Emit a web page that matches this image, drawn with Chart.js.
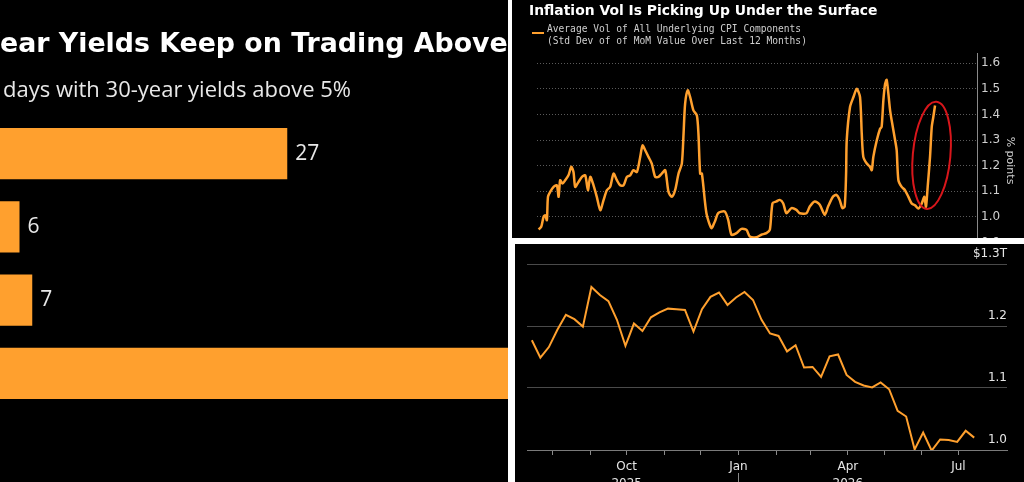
<!DOCTYPE html>
<html>
<head>
<meta charset="utf-8">
<script src="https://cdn.jsdelivr.net/npm/chart.js@4.4.1/dist/chart.umd.min.js"></script>
<style>
  html, body { margin: 0; padding: 0; background: #fff; }
  body { width: 1024px; height: 482px; position: relative; overflow: hidden; }
  .panel { position: absolute; background: #000; overflow: hidden; }
  #left { left: 0; top: 0; width: 508px; height: 482px; }
  #topRight { left: 512px; top: 0; width: 512px; height: 238px; }
  #bottomRight { left: 515px; top: 244px; width: 509px; height: 238px; }
  canvas { position: absolute; }
  .txt { position: absolute; white-space: nowrap; }
  .cut { position: absolute; right: 100%; }
</style>
</head>
<body>

<div class="panel" id="left">
  <canvas id="yieldBars" width="765" height="482" style="left:-57px; top:0"></canvas>
  <div class="txt" style="left:0; top:27px; font: bold 26.8px 'DejaVu Sans'; color:#fff"><span class="cut">30-Y</span>ear Yields Keep on Trading Above 5%</div>
  <div class="txt" style="left:3px; top:73px; font: 22px 'Open Sans'; color:#e8e8e8"><span class="cut">Number of&nbsp;</span>days with 30-year yields above 5%</div>
</div>

<div class="panel" id="topRight">
  <canvas id="volLine" width="512" height="280" style="left:0; top:0"></canvas>
  <div class="txt" style="left:17px; top:1.5px; font: bold 13.9px 'DejaVu Sans'; color:#fff">Inflation Vol Is Picking Up Under the Surface</div>
  <div class="txt" style="left:20px; top:32px; width:12px; height:2px; background:#ffa02e"></div>
  <div class="txt" style="left:35px; top:22.5px; font: 9.6px/12.3px 'DejaVu Sans Mono'; color:#cfcfcf; white-space:pre">Average Vol of All Underlying CPI Components
(Std Dev of of MoM Value Over Last 12 Months)</div>
</div>

<div class="panel" id="bottomRight">
  <canvas id="bottomLine" width="509" height="260" style="left:0; top:0"></canvas>
</div>

<script>
const ORANGE = "#ffa02e";

// --- left: days with 30-year yields above 5% ---
const yieldYears = ["2006", "2007", "2023", "2025"];
const daysAbove5 = [27, 6, 7, 58];

// --- top right: average vol of CPI components ---
const volYears = [
  2000.30, 2000.47, 2000.62, 2000.73, 2000.83, 2000.90, 2001.04, 2001.26, 2001.47, 2001.58,
  2001.68, 2001.83, 2002.00, 2002.21, 2002.39, 2002.53, 2002.64, 2002.85, 2003.07, 2003.28,
  2003.45, 2003.60, 2003.81, 2004.02, 2004.24, 2004.45, 2004.66, 2004.87, 2005.09, 2005.30,
  2005.51, 2005.73, 2005.94, 2006.15, 2006.36, 2006.58, 2006.79, 2006.94, 2007.11, 2007.32,
  2007.53, 2007.75, 2007.96, 2008.17, 2008.39, 2008.60, 2008.81, 2009.02, 2009.24, 2009.45,
  2009.56, 2009.66, 2009.83, 2009.98, 2010.19, 2010.41, 2010.51, 2010.62, 2010.73, 2011.02,
  2011.34, 2011.56, 2011.77, 2012.19, 2012.41, 2012.62, 2012.94, 2013.26, 2013.58, 2013.79,
  2014.21, 2014.53, 2014.85, 2015.07, 2015.24, 2015.49, 2015.70, 2015.92, 2016.13, 2016.45,
  2016.77, 2016.98, 2017.41, 2017.62, 2017.94, 2018.26, 2018.58, 2018.79, 2019.11, 2019.32,
  2019.53, 2019.70, 2019.85, 2019.94, 2019.98, 2020.19, 2020.41, 2020.62, 2020.83, 2020.94,
  2021.04, 2021.26, 2021.47, 2021.58, 2021.68, 2021.90, 2022.11, 2022.21, 2022.32, 2022.43,
  2022.53, 2022.64, 2022.75, 2022.85, 2023.07, 2023.17, 2023.28, 2023.49, 2023.70, 2023.92,
  2024.13, 2024.34, 2024.56, 2024.77, 2024.94, 2025.04, 2025.15, 2025.30, 2025.41, 2025.51,
  2025.62
];
const volValues = [
  0.951, 0.961, 1.000, 1.006, 0.987, 1.078, 1.097, 1.117, 1.123, 1.078,
  1.143, 1.130, 1.143, 1.162, 1.195, 1.175, 1.117, 1.136, 1.156, 1.162,
  1.104, 1.156, 1.123, 1.078, 1.026, 1.065, 1.104, 1.117, 1.169, 1.143,
  1.123, 1.123, 1.156, 1.162, 1.182, 1.175, 1.234, 1.279, 1.260, 1.234,
  1.208, 1.156, 1.156, 1.169, 1.182, 1.097, 1.078, 1.104, 1.169, 1.208,
  1.325, 1.442, 1.494, 1.468, 1.416, 1.396, 1.325, 1.169, 1.169, 1.014,
  0.956, 0.982, 1.014, 1.021, 0.988, 0.930, 0.936, 0.953, 0.949, 0.923,
  0.920, 0.930, 0.936, 0.949, 1.053, 1.060, 1.066, 1.053, 1.014, 1.034,
  1.027, 1.014, 1.014, 1.040, 1.060, 1.047, 1.008, 1.040, 1.079, 1.086,
  1.066, 1.034, 1.040, 1.169, 1.299, 1.429, 1.468, 1.500, 1.468, 1.325,
  1.234, 1.208, 1.195, 1.182, 1.234, 1.299, 1.344, 1.351, 1.455, 1.519,
  1.535, 1.481, 1.416, 1.377, 1.299, 1.260, 1.143, 1.117, 1.104, 1.078,
  1.052, 1.045, 1.032, 1.052, 1.078, 1.039, 1.117, 1.234, 1.351, 1.390,
  1.435
];
const volAxisMin = 0.8, volAxisMax = 1.64;
const circleMark = { xMin: 2024.2, xMax: 2026.6, yMin: 1.03, yMax: 1.45 };

// --- bottom right: weekly series, $T ---
const weekDates = [
  "2025-07-15", "2025-07-22", "2025-07-29", "2025-08-05", "2025-08-12", "2025-08-19", "2025-08-26",
  "2025-09-02", "2025-09-09", "2025-09-16", "2025-09-23", "2025-09-30", "2025-10-07", "2025-10-14",
  "2025-10-21", "2025-10-28", "2025-11-04", "2025-11-11", "2025-11-18", "2025-11-25", "2025-12-02",
  "2025-12-09", "2025-12-16", "2025-12-23", "2025-12-30", "2026-01-06", "2026-01-13", "2026-01-20",
  "2026-01-27", "2026-02-03", "2026-02-10", "2026-02-17", "2026-02-24", "2026-03-03", "2026-03-10",
  "2026-03-17", "2026-03-24", "2026-03-31", "2026-04-07", "2026-04-14", "2026-04-21", "2026-04-28",
  "2026-05-05", "2026-05-12", "2026-05-19", "2026-05-26", "2026-06-02", "2026-06-09", "2026-06-16",
  "2026-06-23", "2026-06-30", "2026-07-07", "2026-07-14"
];
const weekValues = [
  1.177, 1.149, 1.166, 1.194, 1.218, 1.211, 1.199,
  1.263, 1.250, 1.240, 1.210, 1.168, 1.204, 1.192,
  1.214, 1.222, 1.228, 1.227, 1.226, 1.191, 1.227,
  1.247, 1.254, 1.234, 1.246, 1.255, 1.242, 1.210,
  1.188, 1.184, 1.159, 1.169, 1.133, 1.134, 1.118,
  1.151, 1.154, 1.121, 1.110, 1.104, 1.101, 1.109,
  1.098, 1.063, 1.054, 1.001, 1.028, 0.999, 1.017,
  1.016, 1.013, 1.031, 1.020
];
const monthTicks = [
  "2025-08-01", "2025-09-01", "2025-10-01", "2025-11-01", "2025-12-01", "2026-01-01",
  "2026-02-01", "2026-03-01", "2026-04-01", "2026-05-01", "2026-06-01", "2026-07-01"
];
const monthLabels = ["", "", ["Oct", "2025"], "", "", "Jan", "", "", ["Apr", "2026"], "", "", "Jul"];
const yearBreaks = ["2026-01-01"];
const axisStart = "2025-07-11", axisEnd = "2026-08-10";

const dayNum = s => (Date.UTC(+s.slice(0, 4), +s.slice(5, 7) - 1, +s.slice(8, 10)) - Date.UTC(2025, 0, 1)) / 86400000;

Chart.defaults.animation = false;
Chart.defaults.responsive = false;
Chart.defaults.devicePixelRatio = 1;
Chart.defaults.plugins.legend.display = false;
Chart.defaults.plugins.tooltip.enabled = false;

// value labels at the end of each bar
const barValueLabels = {
    id: "barValueLabels",
    afterDatasetsDraw(chart) {
        const ctx = chart.ctx;
        const vals = chart.data.datasets[0].data;
        ctx.save();
        ctx.font = "21px 'Open Sans'";
        ctx.fillStyle = "#e8e8e8";
        ctx.textBaseline = "middle";
        chart.getDatasetMeta(0).data.forEach((bar, i) => ctx.fillText(vals[i], bar.x + 8, bar.y));
        ctx.restore();
    }
};

new Chart(document.getElementById("yieldBars"), {
    type: "bar",
    data: {
        labels: yieldYears,
        datasets: [{ data: daysAbove5, backgroundColor: ORANGE, categoryPercentage: 1, barPercentage: 0.7 }]
    },
    options: {
        indexAxis: "y",
        layout: { padding: { left: 0, right: 0, top: 117, bottom: 72 } },
        scales: {
            x: { display: false, min: 0, max: 60 },
            y: { display: false }
        }
    },
    plugins: [barValueLabels]
});

// red ring round the latest jump
const ringPlugin = {
    id: "ring",
    afterDatasetsDraw(chart) {
        const { x, y } = chart.scales;
        const x1 = x.getPixelForValue(circleMark.xMin), x2 = x.getPixelForValue(circleMark.xMax);
        const y1 = y.getPixelForValue(circleMark.yMax), y2 = y.getPixelForValue(circleMark.yMin);
        const ctx = chart.ctx;
        ctx.save();
        ctx.strokeStyle = "#d8161b";
        ctx.lineWidth = 2;
        ctx.beginPath();
        ctx.ellipse((x1 + x2) / 2, (y1 + y2) / 2, (x2 - x1) / 2, (y2 - y1) / 2, 0.09, 0, Math.PI * 2);
        ctx.stroke();
        ctx.restore();
    }
};

new Chart(document.getElementById("volLine"), {
    type: "line",
    data: {
        datasets: [{
            data: volYears.map((yr, i) => ({ x: yr, y: volValues[i] })),
            borderColor: ORANGE, borderWidth: 2.5, pointRadius: 0, tension: 0.25
        }]
    },
    options: {
        layout: { padding: { left: 25, right: 0, top: 53, bottom: 12 } },
        scales: {
            x: { type: "linear", display: false, min: 2000.2, max: 2028.3 },
            y: {
                position: "right", min: volAxisMin, max: volAxisMax,
                ticks: {
                    stepSize: 0.1, includeBounds: false, padding: 4, color: "#cfcfcf",
                    font: { family: "DejaVu Sans", size: 12 }, callback: v => v.toFixed(1)
                },
                grid: { color: "#5a5a5a", drawTicks: false },
                border: { display: true, color: "#8a8a8a", width: 1, dash: [1, 2] },
                title: {
                    display: true, text: "% points", color: "#cfcfcf",
                    font: { family: "DejaVu Sans", size: 11 }, padding: { top: 8, bottom: 0 }
                },
                afterFit: s => { s.width = 47; }
            }
        }
    },
    plugins: [ringPlugin]
});

// long tick under the year boundary
const yearBreakPlugin = {
    id: "yearBreak",
    afterDraw(chart) {
        const ctx = chart.ctx, xs = chart.scales.x;
        ctx.save();
        ctx.strokeStyle = "#8a8a8a";
        ctx.lineWidth = 1;
        yearBreaks.forEach(d => {
            const px = Math.round(xs.getPixelForValue(dayNum(d))) + 0.5;
            ctx.beginPath();
            ctx.moveTo(px, chart.chartArea.bottom + 23);
            ctx.lineTo(px, chart.height);
            ctx.stroke();
        });
        ctx.restore();
    }
};

new Chart(document.getElementById("bottomLine"), {
    type: "line",
    data: {
        datasets: [{
            data: weekDates.map((d, i) => ({ x: dayNum(d), y: weekValues[i] })),
            borderColor: ORANGE, borderWidth: 2, pointRadius: 0, tension: 0
        }]
    },
    options: {
        layout: { padding: { left: 12, right: 17, top: 20, bottom: 14 } },
        scales: {
            x: {
                type: "linear", min: dayNum(axisStart), max: dayNum(axisEnd),
                afterBuildTicks: s => { s.ticks = monthTicks.map(d => ({ value: dayNum(d) })); },
                ticks: {
                    autoSkip: false, maxRotation: 0, padding: 3, color: "#e6e6e6",
                    font: { family: "DejaVu Sans", size: 12, lineHeight: 1.45 },
                    callback: (v, i) => monthLabels[i]
                },
                grid: { drawOnChartArea: false, drawTicks: true, tickLength: 5, color: "#8a8a8a" },
                border: { color: "#7a7a7a" },
                afterFit: s => { s.height = 40; }
            },
            y: {
                position: "right", min: 1.0, max: 1.3,
                ticks: {
                    stepSize: 0.1, mirror: true, padding: 0, labelOffset: -10, color: "#e6e6e6",
                    font: { family: "DejaVu Sans", size: 12 },
                    callback: v => Math.abs(v - 1.3) < 1e-6 ? "$1.3T" : v.toFixed(1)
                },
                grid: { color: "#4a4a4a", drawTicks: false },
                border: { display: false }
            }
        }
    },
    plugins: [yearBreakPlugin]
});
</script>
</body>
</html>
